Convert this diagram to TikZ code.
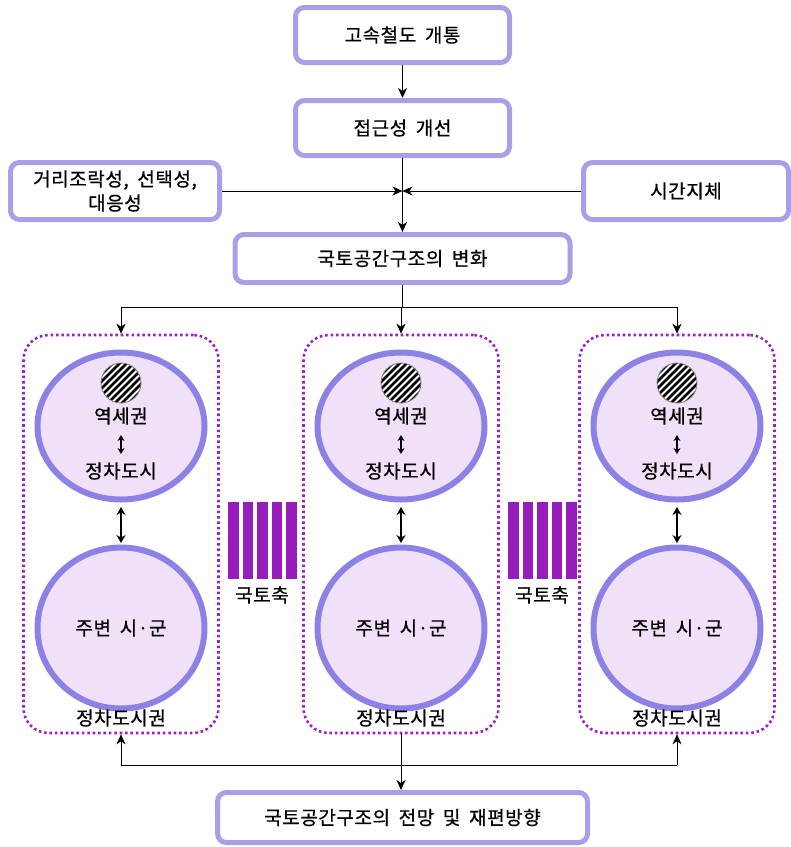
\documentclass[tikz,border=0pt]{standalone}
\usepackage{fontspec}
\setmainfont{Noto Sans CJK KR}[LetterSpace=3,WordSpace=1.8,FakeBold=0.6]
\usetikzlibrary{shapes.geometric,arrows.meta}
\definecolor{boxc}{HTML}{A89FE6}
\definecolor{ellb}{HTML}{8C82E6}
\definecolor{ellf}{HTML}{F0E0F8}
\definecolor{dotc}{HTML}{9B22C2}
\definecolor{barc}{HTML}{951DBC}
\begin{document}
\begin{tikzpicture}[x=1pt,y=-1pt, font=\fontsize{19}{24}\selectfont,
 box/.style={draw=boxc, line width=5pt, rounded corners=9pt, fill=white, align=center, inner sep=0pt},
 ell/.style={ellipse, draw=ellb, line width=6pt, fill=ellf, inner sep=0pt},
 cont/.style={draw=dotc, line width=2.6pt, dash pattern=on 2.6pt off 2.8pt, rounded corners=25pt, inner sep=0pt},
 conn/.style={line width=1pt, -{Stealth[length=10pt,width=9pt,inset=3pt]}},
 dbl/.style={line width=1.6pt, {Stealth[length=6pt,width=7pt]}-{Stealth[length=6pt,width=7pt]}},
 dblb/.style={line width=2pt, {Stealth[length=8pt,width=9pt]}-{Stealth[length=8pt,width=9pt]}},
]
\useasboundingbox (0,0) rectangle (791,847);

% top boxes
\node[box, minimum width=214pt, minimum height=55pt] (b1) at (402.5,35) {고속철도 개통};
\node[box, minimum width=214pt, minimum height=55pt] (b2) at (402.5,128) {접근성 개선};
\node[box, minimum width=209pt, minimum height=57pt] (lb) at (115,191) {거리조락성, 선택성,\\대응성};
\node[box, minimum width=205pt, minimum height=57pt] (rb) at (686,191) {시간지체};
\node[box, minimum width=335pt, minimum height=48pt] (b3) at (402.5,258.5) {국토공간구조의 변화};
\node[box, minimum width=370pt, minimum height=50pt] (bb) at (402.5,817.5) {국토공간구조의 전망 및 재편방향};

% columns
\foreach \n/\x in {a/121,b/401,c/677}{
  \node[cont, minimum width=195pt, minimum height=398pt] (ct\n) at (\x,534) {};
  \node[ell, minimum width=167pt, minimum height=147pt] (up\n) at (\x,426) {};
  \node[ell, minimum width=167pt, minimum height=161pt] (lo\n) at (\x,628) {};
  \begin{scope}
    \clip (\x,383) circle (20pt);
    \fill[white] (\x,383) circle (20pt);
    \foreach \i in {-42,-35,...,42}
      \draw[line width=2.8pt] (\x+\i-30,413) -- (\x+\i+30,353);
  \end{scope}
  \draw[gray, line width=0.8pt] (\x,383) circle (20pt);
  \node (st\n) at (\x,416) {역세권};
  \draw[dbl] (\x,435) -- (\x,454);
  \node (jc\n) at (\x,471) {정차도시};
  \node (sg\n) at (lo\n) {주변 시·군};
  \draw[dblb] (\x,507) -- (\x,543);
  \node (lb\n) at (\x,718) {정차도시권};
}

% national axis bars
\foreach \k in {0,...,4}{
  \fill[barc] (228+\k*14.6,502) rectangle ++(10.5,77);
  \fill[barc] (508+\k*14.6,502) rectangle ++(10.5,77);
}
\node (ax1) at (262,595) {국토축};
\node (ax2) at (542,595) {국토축};

% connectors
\coordinate (j1) at (402.5,191);
\coordinate (j2) at (402.5,307);
\coordinate (j3) at (402.5,765);
\draw[conn] (b1) -- (b2);
\draw[conn] (b2) -- (b3);
\draw[conn] (lb.east) -- (j1);
\draw[conn] (rb.west) -- (j1);
\draw[line width=1pt] (b3.south) -- (j2);
\draw[line width=1pt] (cta.north|-j2) -- (ctc.north|-j2);
\draw[conn] (cta.north|-j2) -- (cta.north);
\draw[conn] (ctb.north|-j2) -- (ctb.north);
\draw[conn] (ctc.north|-j2) -- (ctc.north);
\draw[conn] (ctb.south) -- (ctb.south|-bb.north);
\draw[line width=1pt] (cta.south|-j3) -- (ctc.south|-j3);
\draw[conn] (cta.south|-j3) -- (cta.south);
\draw[conn] (ctc.south|-j3) -- (ctc.south);
\end{tikzpicture}
\end{document}
